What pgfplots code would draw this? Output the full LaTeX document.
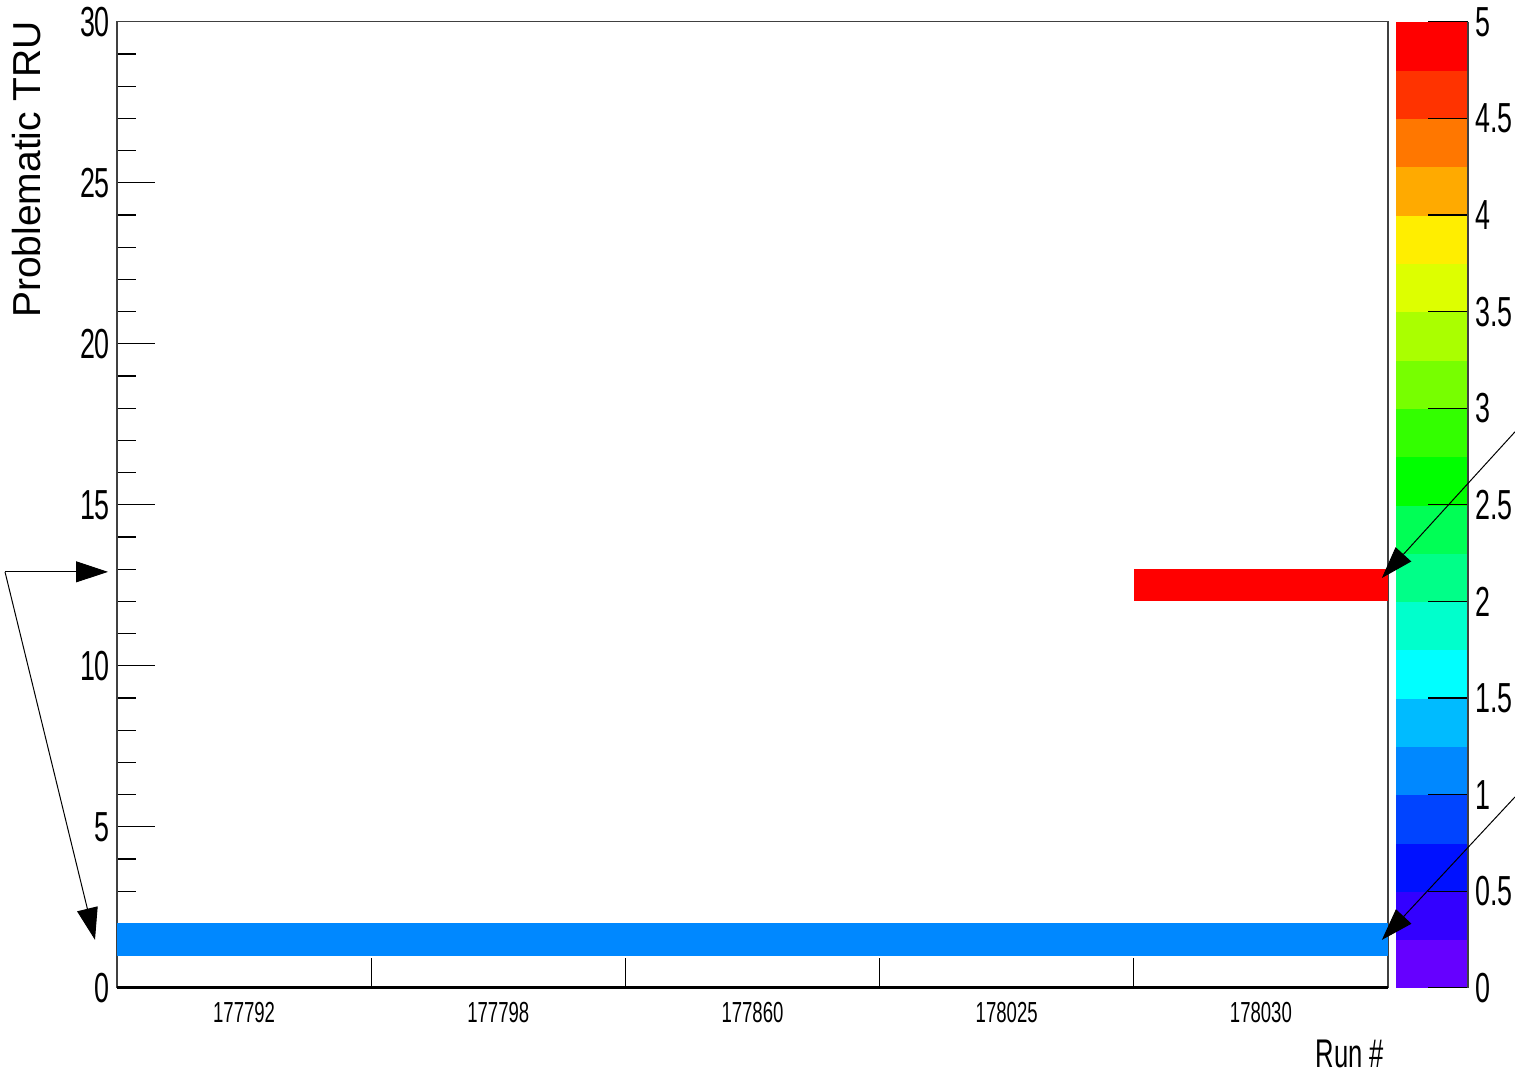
\documentclass[border=0pt]{standalone}
\usepackage{fontspec}
\setmainfont{Liberation Sans}
\newfontfamily\narrowfont[FakeStretch=0.64]{Liberation Sans}
\usepackage{pgfplots}
\pgfplotsset{compat=1.18}
\usetikzlibrary{arrows.meta}
\newcommand\bigtick{\narrowfont\fontsize{21}{21}\selectfont}
\newcommand\smalltick{\narrowfont\fontsize{14.5}{14.5}\selectfont}
\newcommand\runfont{\narrowfont\fontsize{20}{20}\selectfont}
\definecolor{cellblue}{RGB}{0,136,255}
\definecolor{cellred}{RGB}{255,0,0}
\begin{document}
\begin{tikzpicture}
\begin{axis}[
  scale only axis, width=635.5pt, height=483pt,
  xmin=0, xmax=5, ymin=0, ymax=30,
  clip=false,
  axis line style={black!75, line width=0.6pt},
  tick align=inside,
  xtick pos=bottom, ytick pos=left,
  xtick={0.5,1.5,2.5,3.5,4.5},
  xticklabels={177792,177798,177860,178025,178030},
  major x tick style={draw=none},
  extra x ticks={1,2,3,4},
  extra x tick labels={},
  extra x tick style={major tick length=15pt, major x tick style={draw=black, line width=0.5pt}},
  ytick={0,5,...,30}, minor y tick num=4,
  major tick length=19pt, minor tick length=9.5pt,
  y tick style={black, line width=0.6pt},
  /pgf/number format/assume math mode=true,
  yticklabel style={font=\bigtick},
  xticklabel style={font=\smalltick, yshift=-3.5pt},
  colormap={rootpal}{
    rgb255=(102,0,255) rgb255=(51,0,255) rgb255=(0,17,255) rgb255=(0,68,255)
    rgb255=(0,136,255) rgb255=(0,187,255) rgb255=(0,255,255) rgb255=(0,255,204)
    rgb255=(0,255,136) rgb255=(0,255,85) rgb255=(0,255,0) rgb255=(51,255,0)
    rgb255=(119,255,0) rgb255=(170,255,0) rgb255=(221,255,0) rgb255=(255,238,0)
    rgb255=(255,170,0) rgb255=(255,119,0) rgb255=(255,51,0) rgb255=(255,0,0)},
  colormap access=piecewise constant,
  point meta min=0, point meta max=5,
  colorbar,
  colorbar style={
    at={(parent axis.north east)}, anchor=north west, xshift=-4.5pt,
    width=36pt,
    axis x line=none, axis y line*=right,
    ytick={0,0.5,...,5},
    tick align=inside,
    major tick length=20pt,
    y axis line style={black!75, line width=0.6pt},
    ytick style={black, line width=0.6pt},
    /pgf/number format/assume math mode=true,
    yticklabel style={font=\bigtick},
  },
]
% cells: TRU bin 1-2 value ~1.1 in all runs; TRU bin 12-13 value 5 in run 178030
\addplot[draw=none, fill=cellblue] coordinates {(0,1) (5,1) (5,2) (0,2)} -- cycle;
\addplot[draw=none, fill=cellred] coordinates {(4,12) (5,12) (5,13) (4,13)} -- cycle;
% thicker bottom axis line
\draw[black, line width=1.4pt] (rel axis cs:0,0) -- (rel axis cs:1,0);
% labels
\node[rotate=90, anchor=base east, font=\fontsize{19.5}{19.5}\selectfont] at (axis cs:-0.3029,30.25) {Problematic TRU};
\node[anchor=base east, font=\runfont] at (axis cs:5.012,-2.47) {Run \#};
% arrow anchor points
\coordinate (a0) at (axis cs:-0.4406,12.92);
\coordinate (a1) at (axis cs:-0.0354,12.92);
\coordinate (a2) at (axis cs:-0.0866,1.49);
\coordinate (b0) at (axis cs:5.4997,17.27);
\coordinate (b1) at (axis cs:4.976,12.73);
\coordinate (c0) at (axis cs:5.4997,5.93);
\coordinate (c1) at (axis cs:4.976,1.49);
\coordinate (bbtl) at (axis cs:-0.4603,30.68);
\coordinate (bbbr) at (axis cs:5.4997,-2.671);
\end{axis}
% annotation arrows (drawn over the palette)
\draw[black, line width=0.5pt, -{Triangle[length=16pt,width=10.5pt]}] (a0) -- (a1);
\draw[black, line width=0.5pt, -{Triangle[length=16pt,width=10.5pt]}] (a0) -- (a2);
\draw[black, line width=0.5pt, -{Triangle[length=16pt,width=10.5pt]}] (b0) -- (b1);
\draw[black, line width=0.5pt, -{Triangle[length=16pt,width=10.5pt]}] (c0) -- (c1);
\pgfresetboundingbox
\path[use as bounding box] (bbtl) rectangle (bbbr);
\end{tikzpicture}
\end{document}
